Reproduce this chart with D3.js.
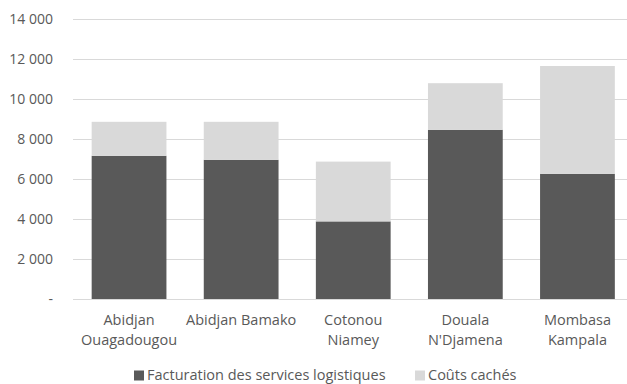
<!DOCTYPE html>
<html>
<head>
<meta charset="utf-8">
<script src="https://cdn.jsdelivr.net/npm/d3@7"></script>
<style>
  html, body { margin: 0; padding: 0; background: #fff; }
  svg { display: block; }
  text { font-family: "Open Sans", "Noto Sans", sans-serif; fill: #595959; }
</style>
</head>
<body>
<svg id="chart" width="627" height="384"></svg>
<script>
// Corridors (two-line labels) and stacked series
const categories = [
  ["Abidjan", "Ouagadougou"],
  ["Abidjan Bamako"],
  ["Cotonou", "Niamey"],
  ["Douala", "N'Djamena"],
  ["Mombasa", "Kampala"]
];
const facturation = [7160, 6960, 3880, 8460, 6260];
const coutsCaches = [1700, 1900, 2990, 2330, 5390];
const seriesNames = ["Facturation des services logistiques", "Coûts cachés"];
const yTicks = [0, 2000, 4000, 6000, 8000, 10000, 12000, 14000];

const colors = ["#595959", "#d9d9d9"];
const svg = d3.select("#chart");
const W = 627, H = 384;
const m = { left: 73, right: -6.5, top: 19, bottom: 85 };

const keys = categories.map((c, i) => i);
const x = d3.scaleBand()
  .domain(keys)
  .range([m.left, W - m.right])
  .paddingInner(0.333)
  .paddingOuter(0.1665);

const y = d3.scaleLinear()
  .domain([0, 14000])
  .range([H - m.bottom, m.top]);

const fmt = v => v === 0 ? "-" : d3.format(",")(v).replace(/,/g, "\u00a0");

// Gridlines
svg.append("g")
  .selectAll("line")
  .data(yTicks)
  .join("line")
  .attr("x1", m.left)
  .attr("x2", W)
  .attr("y1", d => Math.round(y(d)) + 0.5)
  .attr("y2", d => Math.round(y(d)) + 0.5)
  .attr("stroke", "#d9d9d9")
  .attr("stroke-width", 1);

// Y axis labels
const yAxis = d3.axisLeft(y).tickValues(yTicks).tickSize(0).tickPadding(20).tickFormat(fmt);
const gy = svg.append("g").attr("transform", `translate(${m.left},0)`).call(yAxis);
gy.select(".domain").remove();
gy.selectAll("text")
  .attr("font-size", 14)
  .attr("fill", "#595959")
  .attr("font-family", "'Open Sans', 'Noto Sans', sans-serif");

// Stacked bars
const table = keys.map(i => ({ i, f: facturation[i], c: coutsCaches[i] }));
const stack = d3.stack().keys(["f", "c"])(table);

svg.append("g")
  .selectAll("g")
  .data(stack)
  .join("g")
  .attr("fill", (d, k) => colors[k])
  .selectAll("rect")
  .data(d => d)
  .join("rect")
  .attr("x", d => x(d.data.i))
  .attr("width", x.bandwidth())
  .attr("y", d => y(d[1]))
  .attr("height", d => y(d[0]) - y(d[1]));

// Category labels
const gx = svg.append("g");
categories.forEach((lines, i) => {
  const t = gx.append("text")
    .attr("x", x(i) + x.bandwidth() / 2)
    .attr("y", 325)
    .attr("text-anchor", "middle")
    .attr("font-size", 14.5);
  lines.forEach((ln, j) => {
    t.append("tspan")
      .attr("x", x(i) + x.bandwidth() / 2)
      .attr("dy", j === 0 ? 0 : 20)
      .text(ln);
  });
});

// Legend
const legendX = [134, 415];
const lg = svg.append("g");
seriesNames.forEach((name, k) => {
  lg.append("rect")
    .attr("x", legendX[k])
    .attr("y", 370.5)
    .attr("width", 10)
    .attr("height", 10)
    .attr("fill", colors[k]);
  lg.append("text")
    .attr("x", legendX[k] + 13)
    .attr("y", 379.5)
    .attr("font-size", 14.5)
    .text(name);
});
</script>
</body>
</html>
